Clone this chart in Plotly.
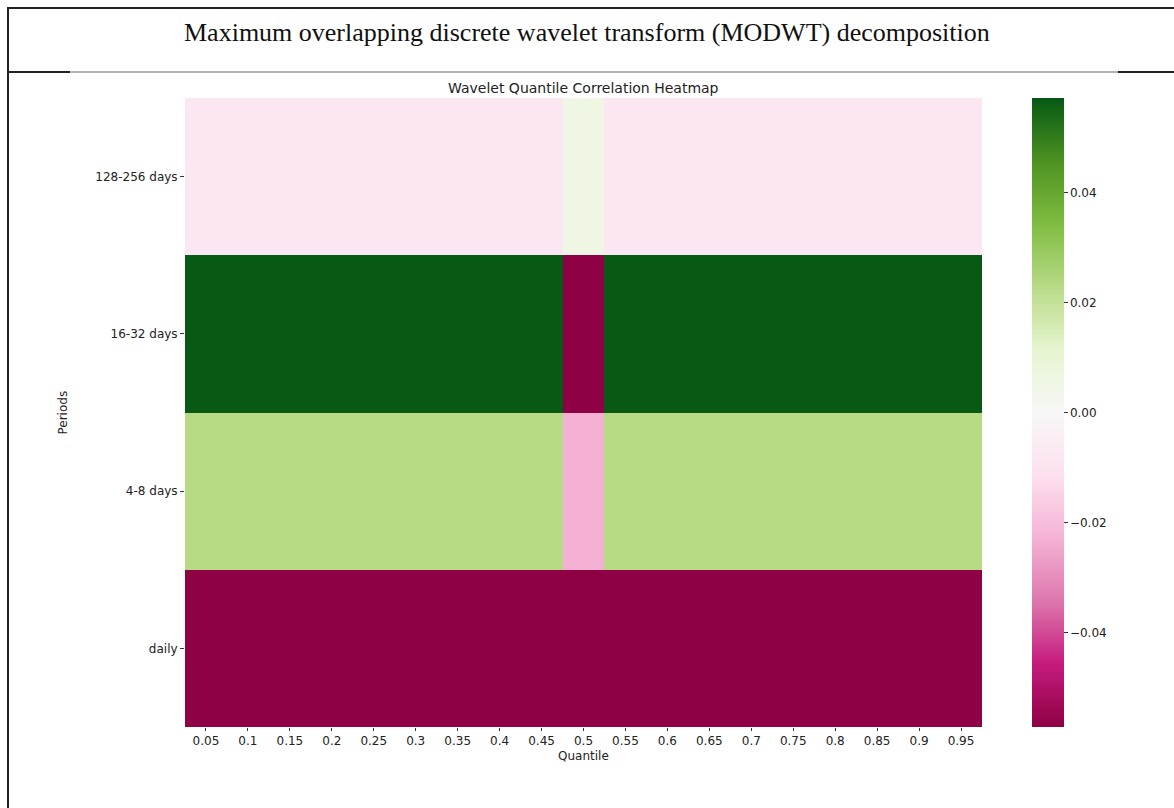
import plotly.graph_objects as go

# ---------------- data ----------------
quantiles = ["0.05", "0.1", "0.15", "0.2", "0.25", "0.3", "0.35", "0.4", "0.45", "0.5",
             "0.55", "0.6", "0.65", "0.7", "0.75", "0.8", "0.85", "0.9", "0.95"]
periods = ["128-256 days", "16-32 days", "4-8 days", "daily"]

corr_128_256 = [-0.008, -0.008, -0.008, -0.008, -0.008, -0.008, -0.008, -0.008, -0.008, 0.0055,
                -0.008, -0.008, -0.008, -0.008, -0.008, -0.008, -0.008, -0.008, -0.008]
corr_16_32 = [0.057, 0.057, 0.057, 0.057, 0.057, 0.057, 0.057, 0.057, 0.057, -0.057,
              0.057, 0.057, 0.057, 0.057, 0.057, 0.057, 0.057, 0.057, 0.057]
corr_4_8 = [0.023, 0.023, 0.023, 0.023, 0.023, 0.023, 0.023, 0.023, 0.023, -0.023,
            0.023, 0.023, 0.023, 0.023, 0.023, 0.023, 0.023, 0.023, 0.023]
corr_daily = [-0.057, -0.057, -0.057, -0.057, -0.057, -0.057, -0.057, -0.057, -0.057, -0.057,
              -0.057, -0.057, -0.057, -0.057, -0.057, -0.057, -0.057, -0.057, -0.057]

cbar_ticks = [-0.04, -0.02, 0.0, 0.02, 0.04]

z = [corr_128_256, corr_16_32, corr_4_8, corr_daily]

# ---------------- layout geometry ----------------
W, H = 1174, 808
L, R, T, B = 185, 982, 98, 727  # plot area in pixels
pw, ph = R - L, B - T


def px(xp):
    return (xp - L) / pw


def py(yp):
    return (B - yp) / ph


piyg = [
    [0.0, "rgb(142,1,68)"],
    [0.1, "rgb(197,27,125)"],
    [0.2, "rgb(222,119,174)"],
    [0.3, "rgb(244,178,212)"],
    [0.4, "rgb(253,224,239)"],
    [0.5, "rgb(247,247,247)"],
    [0.6, "rgb(230,245,208)"],
    [0.7, "rgb(184,218,134)"],
    [0.8, "rgb(127,188,65)"],
    [0.9, "rgb(77,146,33)"],
    [1.0, "rgb(6,88,20)"],
]

fig = go.Figure(
    go.Heatmap(
        z=z,
        x=quantiles,
        y=periods,
        colorscale=piyg,
        zmin=-0.0572,
        zmax=0.0572,
        xgap=0,
        ygap=0,
        colorbar=dict(
            x=px(1032), xanchor="left", xpad=0,
            y=0.5, yanchor="middle", ypad=0,
            len=1, lenmode="fraction",
            thickness=32, thicknessmode="pixels",
            outlinewidth=0,
            tickvals=cbar_ticks,
            tickformat=".2f",
            ticks="outside", ticklen=4, tickcolor="#333",
            tickfont=dict(family="DejaVu Sans", size=12, color="#222"),
        ),
    )
)

tickfont = dict(family="DejaVu Sans", size=12, color="#222")

fig.update_layout(
    width=W, height=H,
    margin=dict(l=L, r=W - R, t=T, b=H - B),
    paper_bgcolor="white",
    plot_bgcolor="white",
    xaxis=dict(
        showgrid=False, zeroline=False, showline=False,
        ticks="outside", ticklen=3, tickcolor="#333",
        tickfont=tickfont, tickangle=0,
    ),
    yaxis=dict(
        showgrid=False, zeroline=False, showline=False,
        autorange="reversed",
        ticks="outside", ticklen=4, tickcolor="#333",
        tickfont=tickfont,
    ),
    showlegend=False,
)

annotations = [
    dict(text="Maximum overlapping discrete wavelet transform (MODWT) decomposition",
         x=px(587), y=py(32), xref="paper", yref="paper",
         xanchor="center", yanchor="middle", showarrow=False,
         font=dict(family="Liberation Serif", size=26, color="#111")),
    dict(text="Wavelet Quantile Correlation Heatmap",
         x=0.5, y=py(88), xref="paper", yref="paper",
         xanchor="center", yanchor="middle", showarrow=False,
         font=dict(family="DejaVu Sans", size=14, color="#222")),
    dict(text="Quantile",
         x=0.5, y=py(756), xref="paper", yref="paper",
         xanchor="center", yanchor="middle", showarrow=False,
         font=dict(family="DejaVu Sans", size=12, color="#222")),
    dict(text="Periods", textangle=-90,
         x=px(62), y=0.5, xref="paper", yref="paper",
         xanchor="center", yanchor="middle", showarrow=False,
         font=dict(family="DejaVu Sans", size=12, color="#222")),
]
fig.update_layout(annotations=annotations)

line_dark = dict(color="#222", width=2)
line_thin = dict(color="#666", width=1)
shapes = [
    # outer frame top and left
    dict(type="line", xref="paper", yref="paper", x0=px(8), x1=px(1174), y0=py(8), y1=py(8), line=line_dark),
    dict(type="line", xref="paper", yref="paper", x0=px(8), x1=px(8), y0=py(7), y1=py(808), line=line_dark),
    # separator under the title
    dict(type="line", xref="paper", yref="paper", x0=px(70), x1=px(1118), y0=py(72), y1=py(72), line=line_thin),
    dict(type="line", xref="paper", yref="paper", x0=px(8), x1=px(70), y0=py(72), y1=py(72), line=line_dark),
    dict(type="line", xref="paper", yref="paper", x0=px(1118), x1=px(1174), y0=py(72), y1=py(72), line=line_dark),
]
fig.update_layout(shapes=shapes)

fig.write_html(
    "out.html",
    config={"displayModeBar": False},
    post_script="document.body.style.margin='0';document.body.style.overflow='hidden';",
)
